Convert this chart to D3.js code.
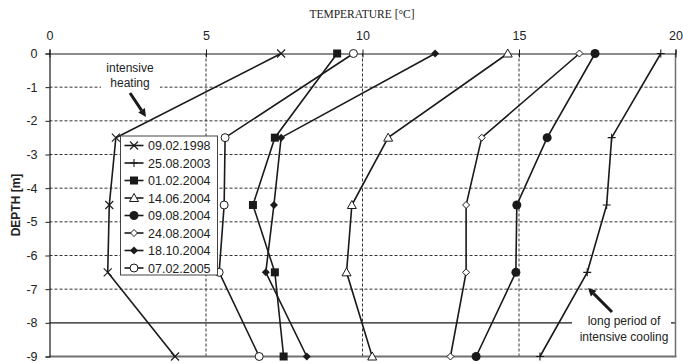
<!DOCTYPE html>
<html>
<head>
<meta charset="utf-8">
<script src="https://cdn.jsdelivr.net/npm/d3@7/dist/d3.min.js"></script>
<style>
  html, body { margin: 0; padding: 0; background: #fff; }
  svg { display: block; }
  text { font-family: "Liberation Sans", Arial, sans-serif; }
</style>
</head>
<body>
<svg id="chart" width="683" height="363"></svg>
<script>
// Measurement depths [m]
const depths = [0, -2.5, -4.5, -6.5, -9];

// Temperature profiles [°C] at each depth
const t_1998_02_09 = [7.40, 2.12, 1.91, 1.86, 4.01];
const t_2003_08_25 = [19.53, 17.96, 17.80, 17.18, 15.67];
const t_2004_02_01 = [9.19, 7.20, 6.50, 7.20, 7.48];
const t_2004_06_14 = [14.64, 10.82, 9.66, 9.49, 10.31];
const t_2004_08_09 = [17.43, 15.90, 14.93, 14.90, 13.63];
const t_2004_08_24 = [16.93, 13.81, 13.31, 13.31, 12.81];
const t_2004_10_18 = [12.32, 7.40, 7.17, 6.91, 8.22];
const t_2005_02_07 = [9.71, 5.61, 5.58, 5.42, 6.70];

const seriesNames = ["09.02.1998", "25.08.2003", "01.02.2004", "14.06.2004",
                     "09.08.2004", "24.08.2004", "18.10.2004", "07.02.2005"];
const seriesValues = [t_1998_02_09, t_2003_08_25, t_2004_02_01, t_2004_06_14,
                      t_2004_08_09, t_2004_08_24, t_2004_10_18, t_2005_02_07];
const markerKinds = ["cross", "plus", "square", "triangle",
                     "circleFilled", "diamondOpen", "diamondFilled", "circleOpen"];

const tempTicks = [0, 5, 10, 15, 20];
const depthTicks = [0, -1, -2, -3, -4, -5, -6, -7, -8, -9];
const dashedDepths = [-1, -2, -3, -4, -5, -6, -7];
const dashedTemps = [5, 10, 15];

const svg = d3.select("#chart");
const x = d3.scaleLinear().domain([0, 20]).range([49.5, 675.5]);
const y = d3.scaleLinear().domain([-9, 0]).range([356.5, 53.5]);

const ink = "#1a1a1a";

// dashed grid
const grid = svg.append("g");
grid.selectAll("line.h").data(dashedDepths).join("line")
  .attr("x1", x(0)).attr("x2", x(20))
  .attr("y1", d => y(d)).attr("y2", d => y(d))
  .attr("stroke", "#333").attr("stroke-width", 1).attr("stroke-dasharray", "3,2");
grid.selectAll("line.v").data(dashedTemps).join("line")
  .attr("x1", d => x(d)).attr("x2", d => x(d))
  .attr("y1", y(0)).attr("y2", y(-9))
  .attr("stroke", "#333").attr("stroke-width", 1).attr("stroke-dasharray", "3,2");

// solid reference line at -8 m
svg.append("line")
  .attr("x1", x(0)).attr("x2", x(20)).attr("y1", y(-8)).attr("y2", y(-8))
  .attr("stroke", ink).attr("stroke-width", 1.2);

// frame: bottom and right
svg.append("line")
  .attr("x1", x(0)).attr("x2", x(20) + 1).attr("y1", y(-9)).attr("y2", y(-9))
  .attr("stroke", "#707070").attr("stroke-width", 2.2);
svg.append("line")
  .attr("x1", x(20)).attr("x2", x(20)).attr("y1", y(0)).attr("y2", y(-9))
  .attr("stroke", "#707070").attr("stroke-width", 1.5);

// annotation backgrounds (cover grid lines)
svg.append("rect").attr("x", 101).attr("y", 60).attr("width", 59).attr("height", 32).attr("fill", "#fff");
svg.append("rect").attr("x", 572).attr("y", 309).attr("width", 99).attr("height", 36).attr("fill", "#fff");

// axes
const topAxis = d3.axisTop(x).tickValues(tempTicks).tickSize(4).tickPadding(10)
  .tickFormat(d => String(d));
const gTop = svg.append("g").attr("transform", `translate(0,${y(0)})`).call(topAxis);
gTop.select(".domain").attr("stroke", ink).attr("stroke-width", 1.2);
gTop.selectAll(".tick line").attr("y1", 4).attr("stroke", ink);
gTop.selectAll(".tick text").attr("font-size", 12.5).attr("fill", "#222")
  .attr("font-family", "Liberation Sans, Arial, sans-serif");

const leftAxis = d3.axisLeft(y).tickValues(depthTicks).tickSize(4).tickPadding(8)
  .tickFormat(d => String(d));
const gLeft = svg.append("g").attr("transform", `translate(${x(0)},0)`).call(leftAxis);
gLeft.select(".domain").attr("stroke", ink).attr("stroke-width", 1.2);
gLeft.selectAll(".tick line").attr("stroke", ink);
gLeft.selectAll(".tick text").attr("font-size", 12.5).attr("fill", "#222")
  .attr("font-family", "Liberation Sans, Arial, sans-serif");

// axis titles
svg.append("text").attr("x", 362).attr("y", 18).attr("text-anchor", "middle")
  .attr("font-family", "Liberation Serif, Times New Roman, serif").style("font-family", "Liberation Serif, serif")
  .attr("font-size", 11.5).attr("fill", "#222").text("TEMPERATURE [°C]");
svg.append("text").attr("transform", `translate(20,${y(-4.5)}) rotate(-90)`)
  .attr("text-anchor", "middle").attr("font-size", 12).attr("font-weight", "bold")
  .attr("fill", "#222").text("DEPTH [m]");

// marker drawing
function drawMarker(g, kind, cx, cy) {
  const s = g.append("g").attr("transform", `translate(${cx},${cy})`);
  switch (kind) {
    case "cross":
      s.append("path").attr("d", "M-4,-4L4,4M-4,4L4,-4").attr("stroke", ink).attr("stroke-width", 1.1).attr("fill", "none");
      break;
    case "plus":
      s.append("path").attr("d", "M-4,0L4,0M0,-4L0,4").attr("stroke", ink).attr("stroke-width", 1.1).attr("fill", "none");
      break;
    case "square":
      s.append("rect").attr("x", -4).attr("y", -4).attr("width", 8).attr("height", 8).attr("fill", ink);
      break;
    case "triangle":
      s.append("path").attr("d", "M0,-4.5L4.5,3.5L-4.5,3.5Z").attr("fill", "#fff").attr("stroke", ink).attr("stroke-width", 1);
      break;
    case "circleFilled":
      s.append("circle").attr("r", 4.5).attr("fill", ink);
      break;
    case "circleOpen":
      s.append("circle").attr("r", 4).attr("fill", "#fff").attr("stroke", ink).attr("stroke-width", 1);
      break;
    case "diamondOpen":
      s.append("path").attr("d", "M0,-3.5L3.5,0L0,3.5L-3.5,0Z").attr("fill", "#fff").attr("stroke", ink).attr("stroke-width", 1);
      break;
    case "diamondFilled":
      s.append("path").attr("d", "M0,-4L4,0L0,4L-4,0Z").attr("fill", ink);
      break;
  }
}

// profile lines
const line = d3.line().x(d => x(d[0])).y(d => y(d[1]));
const plot = svg.append("g");
seriesValues.forEach((vals, i) => {
  const pts = vals.map((v, j) => [v, depths[j]]);
  plot.append("path").attr("d", line(pts)).attr("fill", "none")
    .attr("stroke", ink).attr("stroke-width", 1.6).attr("stroke-linejoin", "miter");
});
seriesValues.forEach((vals, i) => {
  vals.forEach((v, j) => drawMarker(plot, markerKinds[i], x(v), y(depths[j])));
});

// legend
const lg = svg.append("g").attr("transform", "translate(120.5,136)");
lg.append("rect").attr("width", 97).attr("height", 139).attr("fill", "#fff")
  .attr("stroke", "#444").attr("stroke-width", 1);
seriesNames.forEach((name, i) => {
  const ry = 9.5 + i * 17.5;
  lg.append("line").attr("x1", 4).attr("x2", 23).attr("y1", ry).attr("y2", ry)
    .attr("stroke", ink).attr("stroke-width", 1.6);
  drawMarker(lg, markerKinds[i], 13.5, ry);
  lg.append("text").attr("x", 27.5).attr("y", ry + 4.5).attr("font-size", 12.5)
    .attr("fill", "#222").text(name);
});

// annotations
function arrow(x1, y1, x2, y2) {
  const ang = Math.atan2(y2 - y1, x2 - x1);
  const L = 8, W = 4;
  const bx = x2 - L * Math.cos(ang), by = y2 - L * Math.sin(ang);
  svg.append("line").attr("x1", x1).attr("y1", y1).attr("x2", bx).attr("y2", by)
    .attr("stroke", ink).attr("stroke-width", 3);
  const px = -Math.sin(ang) * W, py = Math.cos(ang) * W;
  svg.append("path")
    .attr("d", `M${x2},${y2}L${bx + px},${by + py}L${bx - px},${by - py}Z`)
    .attr("fill", ink);
}
svg.append("text").attr("x", 130).attr("y", 72).attr("text-anchor", "middle")
  .attr("font-size", 12).attr("fill", "#222").text("intensive");
svg.append("text").attr("x", 130).attr("y", 87).attr("text-anchor", "middle")
  .attr("font-size", 12).attr("fill", "#222").text("heating");
arrow(130, 93, 146, 117);

svg.append("text").attr("x", 624).attr("y", 325).attr("text-anchor", "middle")
  .attr("font-size", 12).attr("fill", "#222").text("long period of");
svg.append("text").attr("x", 624).attr("y", 341).attr("text-anchor", "middle")
  .attr("font-size", 12).attr("fill", "#222").text("intensive cooling");
arrow(612, 312, 588, 288);
</script>
</body>
</html>
